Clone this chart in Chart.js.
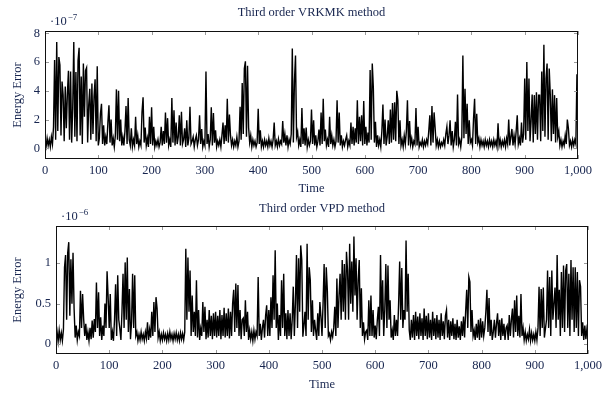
<!DOCTYPE html>
<html>
<head>
<meta charset="utf-8">
<script src="https://cdn.jsdelivr.net/npm/chart.js@4.4.0/dist/chart.umd.min.js"></script>
<style>
html, body { margin: 0; padding: 0; background: #fff; }
.panel { position: absolute; left: 0; width: 614px; }
#top { top: 0; height: 200px; }
#bottom { top: 200px; height: 198px; }
</style>
</head>
<body>
<div class="panel" id="top"><canvas id="chartTop"></canvas></div>
<div class="panel" id="bottom"><canvas id="chartBottom"></canvas></div>
<script>
// sample spacing (time units) of the series below
const dt = 2;

const xTicks = [0, 100, 200, 300, 400, 500, 600, 700, 800, 900, 1000];
const yTicksTop = [0, 2, 4, 6, 8];
const yTicksBottom = [0, 0.5, 1];

// energy error, units of 1e-7, t = 0, 2, 4 ... 1000
const energyVRKMK = [
  .4,.1,.7,.2,.6,.1,.8,.3,1.5,6.15,.6,7.4,1.2,6.35,5.8,.9,4.65,3.7,.5,4.3,1.4,3.8,5.4,.6,5.35,
  .4,2.8,7.4,.8,5.3,.5,6.1,7.0,.9,5.0,.3,5.9,2.2,5.4,5.6,.4,3.0,4.15,.6,4.5,1.0,3.6,4.8,.5,5.7,
  .2,.7,2.4,3.1,.3,1.6,.2,.8,.3,1.8,3.0,.4,2.0,.2,.7,.1,.9,4.1,.6,4.0,.5,2.0,.2,.8,.2,
  1.2,2.95,.3,3.5,.6,.2,1.4,.1,.6,.2,2.2,.3,.9,.1,.5,.2,2.5,3.55,.4,1.45,.2,.7,.1,2.2,.3,
  2.85,.2,1.5,.1,.5,.2,.6,.1,.4,1.5,.2,1.2,.3,2.5,.4,2.1,.2,.6,.1,3.5,.4,2.65,.2,1.8,.3,
  .8,2.3,.2,2.55,.3,.6,1.4,.1,1.95,.2,.7,2.9,.3,.5,.8,.1,.6,.9,.2,.6,2.3,.3,1.35,.1,.5,
  .2,5.35,.3,1.0,.1,.6,2.85,.2,2.45,.4,1.25,.1,.5,.2,.6,.1,.9,1.8,.3,1.6,.5,3.45,.4,2.35,.9,
  .2,.6,.1,.5,.2,.8,.1,.5,2.9,.6,4.55,1.0,5.55,6.05,.8,5.75,1.45,.4,.9,.1,.6,.2,.5,.1,.4,
  2.75,.3,1.25,.1,.5,.1,.6,.2,.5,.1,.7,.2,.5,.1,.6,1.8,.2,.5,.1,.65,.2,.5,.3,1.9,.4,
  1.0,.2,.9,.1,.6,.3,1.0,6.95,.4,4.65,6.45,.8,1.15,.2,.6,.1,2.8,.3,1.4,.2,1.45,.1,.6,.2,.5,
  2.7,.3,1.95,.2,.9,.1,.5,1.3,.2,2.5,.3,3.45,.5,1.3,.2,.6,.1,2.2,.3,.9,.2,.6,.1,.5,3.35,
  .4,2.5,.2,.9,.1,.5,.2,.6,.9,.1,.5,.2,1.8,.3,1.5,.2,1.4,.4,3.35,.3,2.2,.5,2.3,.2,3.3,
  .3,1.5,.2,1.1,.4,5.45,.6,5.9,4.25,.4,1.85,.1,.9,.2,.6,.1,1.2,3.05,.3,2.0,.2,.8,1.95,.3,2.7,
  .4,3.15,.6,3.2,.5,4.0,3.35,.3,1.95,.2,.6,.1,.9,.3,1.2,3.35,.2,1.9,.3,.7,.1,.5,.3,2.8,.2,
  1.5,.1,.4,.2,.6,.1,.5,.2,.6,.3,1.2,2.3,.2,2.95,.4,2.5,1.4,.2,.6,.1,.5,.1,.4,.2,.6,
  .2,1.0,1.5,.3,.9,1.95,.2,1.2,.1,.6,1.85,.2,3.75,.3,.6,.1,.8,6.45,.7,4.15,1.0,3.1,.3,1.95,.4,
  .6,.2,2.05,3.45,.3,2.4,.4,.7,.1,.6,.2,.5,.1,.6,.2,.5,.1,.6,.2,.5,.1,.6,.2,.5,.1,
  1.75,.2,.6,.1,.5,.2,.6,.1,.7,.3,2.0,.2,.8,1.35,.2,.9,.3,1.2,2.3,.3,.7,.2,1.8,.4,1.0,
  4.85,.6,6.0,1.2,4.85,.5,1.9,3.75,.4,3.7,1.0,3.9,.6,3.7,3.7,.5,5.35,1.2,7.2,.8,4.85,5.9,.6,5.55,3.75,
  .5,4.1,1.0,3.7,.4,3.5,.8,1.2,.2,.6,.1,.5,.2,.9,.3,2.0,1.4,.2,.5,.1,.6,.2,.6,.3,5.15,
  .4
];

// energy error, units of 1e-6, t = 0, 2, 4 ... 1000
const energyVPD = [
  .05,.15,.03,.17,.05,.14,.04,.18,.95,1.1,.3,1.13,1.26,.35,1.05,.5,1.13,.44,.08,.23,.05,.15,.1,.66,.2,
  .62,.31,.1,.25,.05,.15,.04,.2,.06,.29,.08,.31,.15,.76,.2,.64,.1,.33,.05,.23,.1,.5,.2,.9,.58,
  .2,.62,.05,.15,.04,.3,.74,.1,.85,.3,.19,.05,.4,.87,.2,1.01,.3,1.07,.15,.68,.06,.27,.87,.2,.85,
  .1,.15,.04,.12,.05,.15,.06,.12,.04,.15,.07,.27,.05,.18,.08,.4,.1,.52,.15,.58,.44,.08,.15,.04,.12,
  .05,.14,.06,.12,.04,.13,.05,.15,.06,.12,.04,.13,.06,.14,.05,.12,.04,.14,.06,.13,.05,.15,1.18,.3,1.07,
  .4,.91,.1,.6,.15,.4,.1,.79,.08,.42,.05,.19,.1,.52,.15,.46,.06,.3,.08,.42,.1,.35,.06,.38,.1,
  .4,.08,.35,.1,.42,.06,.36,.1,.45,.08,.38,.1,.44,.07,.4,.1,.5,.67,.15,.75,.2,.73,.1,.42,.06,
  .3,.32,.1,.54,.15,.4,.05,.17,.06,.15,.04,.17,.06,.15,.1,.83,.1,.25,.05,.2,.3,.08,.35,.48,.1,
  .42,.1,.58,.2,.85,.3,1.16,.2,.5,.05,.36,.1,.79,.2,.87,.1,.38,.06,.42,.1,.38,.06,.3,.71,.1,
  .5,1.1,.2,1.06,.4,1.22,1.04,.09,.23,.4,.1,1.24,.3,.95,.79,.15,.54,.1,.3,.17,.05,.38,.1,.52,.34,
  .1,.5,.99,.2,.95,.67,.1,.13,.05,.15,.09,.2,.46,.1,.81,.2,.6,.87,.3,1.04,.4,.99,.3,1.14,.91,
  .3,1.24,.5,1.02,.4,1.33,.6,1.06,.3,.79,1.04,.2,.69,.1,.27,.06,.15,.17,.05,.54,.1,.6,.1,.42,.08,
  .23,.06,.3,.46,.1,1.1,.3,.79,.1,.42,.99,.2,.97,.3,.54,.08,.17,.05,.36,.1,.3,.1,.5,1.02,.3,
  .94,.2,.42,.3,1.28,.4,.87,.17,.05,.3,.08,.36,.05,.4,.1,.34,.06,.38,.1,.32,.05,.44,.1,.35,.06,
  .38,.08,.3,.05,.4,.1,.32,.06,.36,.08,.3,.05,.38,.1,.28,.06,.35,.42,.08,.3,.05,.28,.1,.32,.06,
  .25,.05,.3,.08,.22,.05,.28,.1,.34,.08,.4,.67,.2,.83,.77,.15,.42,.1,.17,.05,.25,.08,.3,.05,.32,
  .08,.28,.1,.2,.4,.67,.15,.57,.1,.3,.05,.15,.3,.08,.25,.38,.1,.3,.05,.32,.1,.25,.05,.2,.23,
  .05,.36,.1,.3,.44,.08,.54,.15,.6,.1,.35,.08,.62,.1,.2,.05,.15,.04,.12,.06,.18,.04,.14,.05,.12,
  .04,.15,.05,.2,.71,.1,.68,.2,.7,.08,.19,.3,.91,.2,.83,.1,.91,.3,.5,.7,.2,1.1,.3,.67,.1,
  .89,.2,.97,.15,.91,.99,.2,.87,.1,1.04,.3,.95,.15,.95,.2,.89,.1,.79,.71,.1,.27,.05,.23,.06,.19,
  .12
];

const textColor = '#17254f';
const serif = "'Liberation Serif', 'DejaVu Serif', serif";
const fontSize = 12.5;

// pgfplots style box, inward ticks, title and the exponent above the y axis
const framePlugin = {
  id: 'frame',
  afterDraw(chart, args, opts) {
    const { ctx, chartArea: a } = chart;
    const sx = chart.scales.x, sy = chart.scales.y;
    ctx.save();
    ctx.lineWidth = 1;
    ctx.strokeStyle = '#9a9a9a';
    ctx.beginPath();
    sx.ticks.forEach(t => {
      const p = Math.round(sx.getPixelForValue(t.value)) + 0.5;
      ctx.moveTo(p, a.bottom); ctx.lineTo(p, a.bottom - 4);
      ctx.moveTo(p, a.top); ctx.lineTo(p, a.top + 4);
    });
    sy.ticks.forEach(t => {
      const p = Math.round(sy.getPixelForValue(t.value)) + 0.5;
      ctx.moveTo(a.left, p); ctx.lineTo(a.left + 4, p);
      ctx.moveTo(a.right, p); ctx.lineTo(a.right - 4, p);
    });
    ctx.stroke();
    ctx.strokeStyle = '#111';
    ctx.strokeRect(a.left + 0.5, a.top + 0.5, a.right - a.left - 1, a.bottom - a.top - 1);

    ctx.fillStyle = textColor;
    ctx.font = fontSize + 'px ' + serif;
    ctx.textAlign = 'center';
    ctx.textBaseline = 'middle';
    ctx.fillText(opts.title, (a.left + a.right) / 2, opts.titleY);

    ctx.textAlign = 'left';
    ctx.textBaseline = 'alphabetic';
    const ex = a.left + 5, ey = a.top - 6;
    ctx.fillText('·10', ex, ey);
    const w = ctx.measureText('·10').width;
    ctx.font = '9px ' + serif;
    ctx.fillText('−' + opts.exponent, ex + w + 1, ey - 5);
    ctx.restore();
  }
};

function makeChart(id, values, o) {
  const points = values.map((v, i) => ({ x: i * dt, y: v }));
  const font = { family: serif, size: fontSize };
  return new Chart(document.getElementById(id), {
    type: 'line',
    data: {
      datasets: [{
        data: points,
        borderColor: '#000',
        borderWidth: 1.4,
        pointRadius: 0,
        tension: 0,
        fill: false
      }]
    },
    options: {
      responsive: true,
      maintainAspectRatio: false,
      animation: false,
      events: [],
      layout: { padding: { left: 0, top: o.top, right: o.right, bottom: 0 } },
      scales: {
        x: {
          type: 'linear',
          min: 0,
          max: 1000,
          afterBuildTicks: s => { s.ticks = xTicks.map(v => ({ value: v })); },
          afterFit: s => { s.height = o.xHeight; },
          grid: { display: false, drawTicks: false },
          border: { display: false },
          ticks: { autoSkip: false, maxRotation: 0, padding: 4, color: textColor, font: font },
          title: { display: true, text: 'Time', color: textColor, font: font, padding: { top: 0, bottom: o.xTitlePad } }
        },
        y: {
          type: 'linear',
          min: o.yMin,
          max: o.yMax,
          afterBuildTicks: s => { s.ticks = o.yTicks.map(v => ({ value: v })); },
          afterFit: s => { s.width = o.yWidth; },
          grid: { display: false, drawTicks: false },
          border: { display: false },
          ticks: { autoSkip: false, padding: 5, color: textColor, font: font, callback: v => String(v) },
          title: { display: true, text: 'Energy Error', color: textColor, font: font, padding: { top: 10, bottom: 0 } }
        }
      },
      plugins: {
        legend: { display: false },
        tooltip: { enabled: false },
        frame: { title: o.title, titleY: o.titleY, exponent: o.exponent }
      }
    },
    plugins: [framePlugin]
  });
}

makeChart('chartTop', energyVRKMK, {
  title: 'Third order VRKMK method', titleY: 13, exponent: '7',
  top: 31, right: 36, xHeight: 41, yWidth: 45, xTitlePad: 4,
  yMin: -0.74, yMax: 8.16, yTicks: yTicksTop
});

makeChart('chartBottom', energyVPD, {
  title: 'Third order VPD method', titleY: 9, exponent: '6',
  top: 26, right: 26, xHeight: 44, yWidth: 56, xTitlePad: 6,
  yMin: -0.123, yMax: 1.46, yTicks: yTicksBottom
});
</script>
</body>
</html>
